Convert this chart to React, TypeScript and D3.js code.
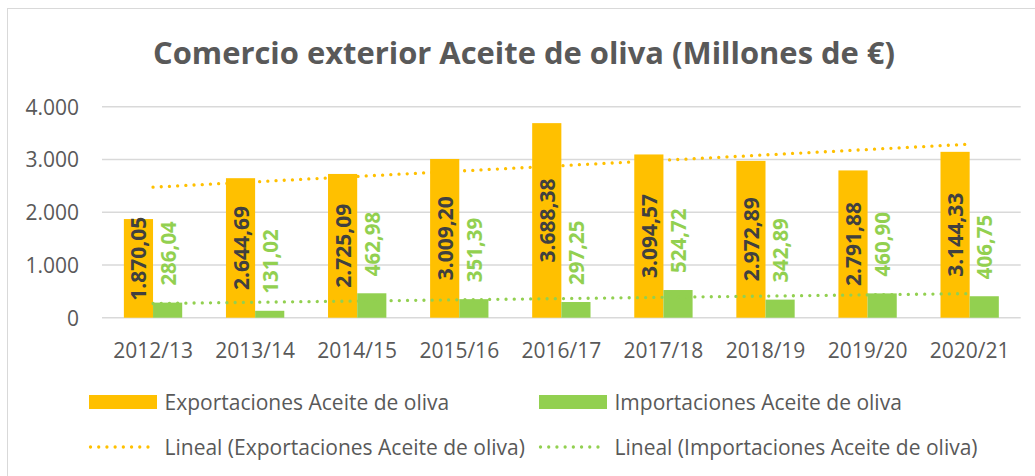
import React from "react";
import * as d3 from "d3";

const categories = ["2012/13", "2013/14", "2014/15", "2015/16", "2016/17", "2017/18", "2018/19", "2019/20", "2020/21"];
const exportaciones = [1870.05, 2644.69, 2725.09, 3009.2, 3688.38, 3094.57, 2972.89, 2791.88, 3144.33];
const importaciones = [286.04, 131.02, 462.98, 351.39, 297.25, 524.72, 342.89, 460.9, 406.75];
const yTicks = [0, 1000, 2000, 3000, 4000];
const seriesNames = ["Exportaciones Aceite de oliva", "Importaciones Aceite de oliva"];
const trendNames = ["Lineal (Exportaciones Aceite de oliva)", "Lineal (Importaciones Aceite de oliva)"];
const title = "Comercio exterior Aceite de oliva (Millones de €)";

const ORANGE = "#FFC000";
const GREEN = "#92D050";
const TEXT = "#595959";
const FONT = "'Open Sans', sans-serif";

const locale = d3.formatLocale({ decimal: ",", thousands: ".", grouping: [3], currency: ["", "€"] });
const fmt2 = locale.format(",.2f");
const fmt0 = locale.format(",.0f");

function linReg(vals: number[]) {
  const xs = vals.map((_, i) => i + 1);
  const mx = d3.mean(xs)!;
  const my = d3.mean(vals)!;
  let num = 0, den = 0;
  xs.forEach((x, i) => { num += (x - mx) * (vals[i] - my); den += (x - mx) * (x - mx); });
  const b = num / den;
  const a = my - b * mx;
  return xs.map((x) => a + b * x);
}

export default function App() {
  const W = 1035, H = 476;
  const left = 102, right = 1020.7, top = 106.7, bottom = 317.7;
  const x0 = d3.scaleBand<string>().domain(categories).range([left, right]).paddingInner(0).paddingOuter(0);
  const bw = x0.bandwidth();
  const barW = bw / 3.5;
  const y = d3.scaleLinear().domain([0, 4000]).range([bottom, top]);
  const trendE = linReg(exportaciones);
  const trendI = linReg(importaciones);
  const line = d3.line<number>().x((_, i) => x0(categories[i])! + bw / 2).y((d) => y(d));
  const dot = { strokeDasharray: "0.01 8.2", strokeLinecap: "round" as const, strokeWidth: 3.3, fill: "none" };

  return (
    <svg width={W} height={H} style={{ position: "absolute", left: 0, top: 0 }}>
      <rect x={0} y={0} width={W} height={H} fill="#fff" />
      <rect x={7.5} y={8.5} width={W + 10} height={H + 10} fill="#fff" stroke="#d9d9d9" strokeWidth={1} />
      <text x={524} y={63.5} textAnchor="middle" fontFamily={FONT} fontWeight={700} fontSize={30} fill={TEXT}
        textLength={742} lengthAdjust="spacingAndGlyphs">{title}</text>
      {yTicks.map((t) => (
        <g key={t}>
          <line x1={left} x2={right} y1={y(t)} y2={y(t)} stroke="#d9d9d9" strokeWidth={1.5} />
          <text x={79} y={y(t)} textAnchor="end" dominantBaseline="central" fontFamily={FONT} fontSize={21} fill={TEXT}>{fmt0(t)}</text>
        </g>
      ))}
      {categories.map((c, i) => {
        const cx = x0(c)! + bw / 2;
        return (
          <g key={c}>
            <rect x={cx - barW} y={y(exportaciones[i])} width={barW} height={y(0) - y(exportaciones[i])} fill={ORANGE} />
            <rect x={cx} y={y(importaciones[i])} width={barW} height={y(0) - y(importaciones[i])} fill={GREEN} />
            <text x={cx} y={350} textAnchor="middle" dominantBaseline="central" fontFamily={FONT} fontSize={21} fill={TEXT}>{c}</text>
          </g>
        );
      })}
      <path d={line(trendE)!} stroke={ORANGE} {...dot} />
      <path d={line(trendI)!} stroke={GREEN} {...dot} />
      {categories.map((c, i) => {
        const cx = x0(c)! + bw / 2;
        const ce = Math.min((y(exportaciones[i]) + y(0)) / 2, y(0) - 59);
        const gi = y(importaciones[i]) - 17;
        return (
          <g key={"l" + c}>
            <text transform={`translate(${cx - barW / 2},${ce}) rotate(-90)`} textAnchor="middle" dominantBaseline="central"
              fontFamily={FONT} fontWeight={700} fontSize={21} fill="#404040">{fmt2(exportaciones[i])}</text>
            <text transform={`translate(${cx + barW / 2},${gi}) rotate(-90)`} textAnchor="start" dominantBaseline="central"
              fontFamily={FONT} fontWeight={700} fontSize={20.5} fill={GREEN}>{fmt2(importaciones[i])}</text>
          </g>
        );
      })}
      {[0, 1].map((k) => {
        const lx = k === 0 ? 89 : 539;
        const col = k === 0 ? ORANGE : GREEN;
        return (
          <g key={"lg" + k}>
            <rect x={lx} y={395} width={68} height={14} fill={col} />
            <text x={lx + 75.5} y={401.5} dominantBaseline="central" fontFamily={FONT} fontSize={21} fill={TEXT}>{seriesNames[k]}</text>
            <line x1={lx + 1.5} x2={lx + 67} y1={447} y2={447} stroke={col} {...dot} />
            <text x={lx + 75.5} y={447} dominantBaseline="central" fontFamily={FONT} fontSize={21} fill={TEXT}>{trendNames[k]}</text>
          </g>
        );
      })}
    </svg>
  );
}
